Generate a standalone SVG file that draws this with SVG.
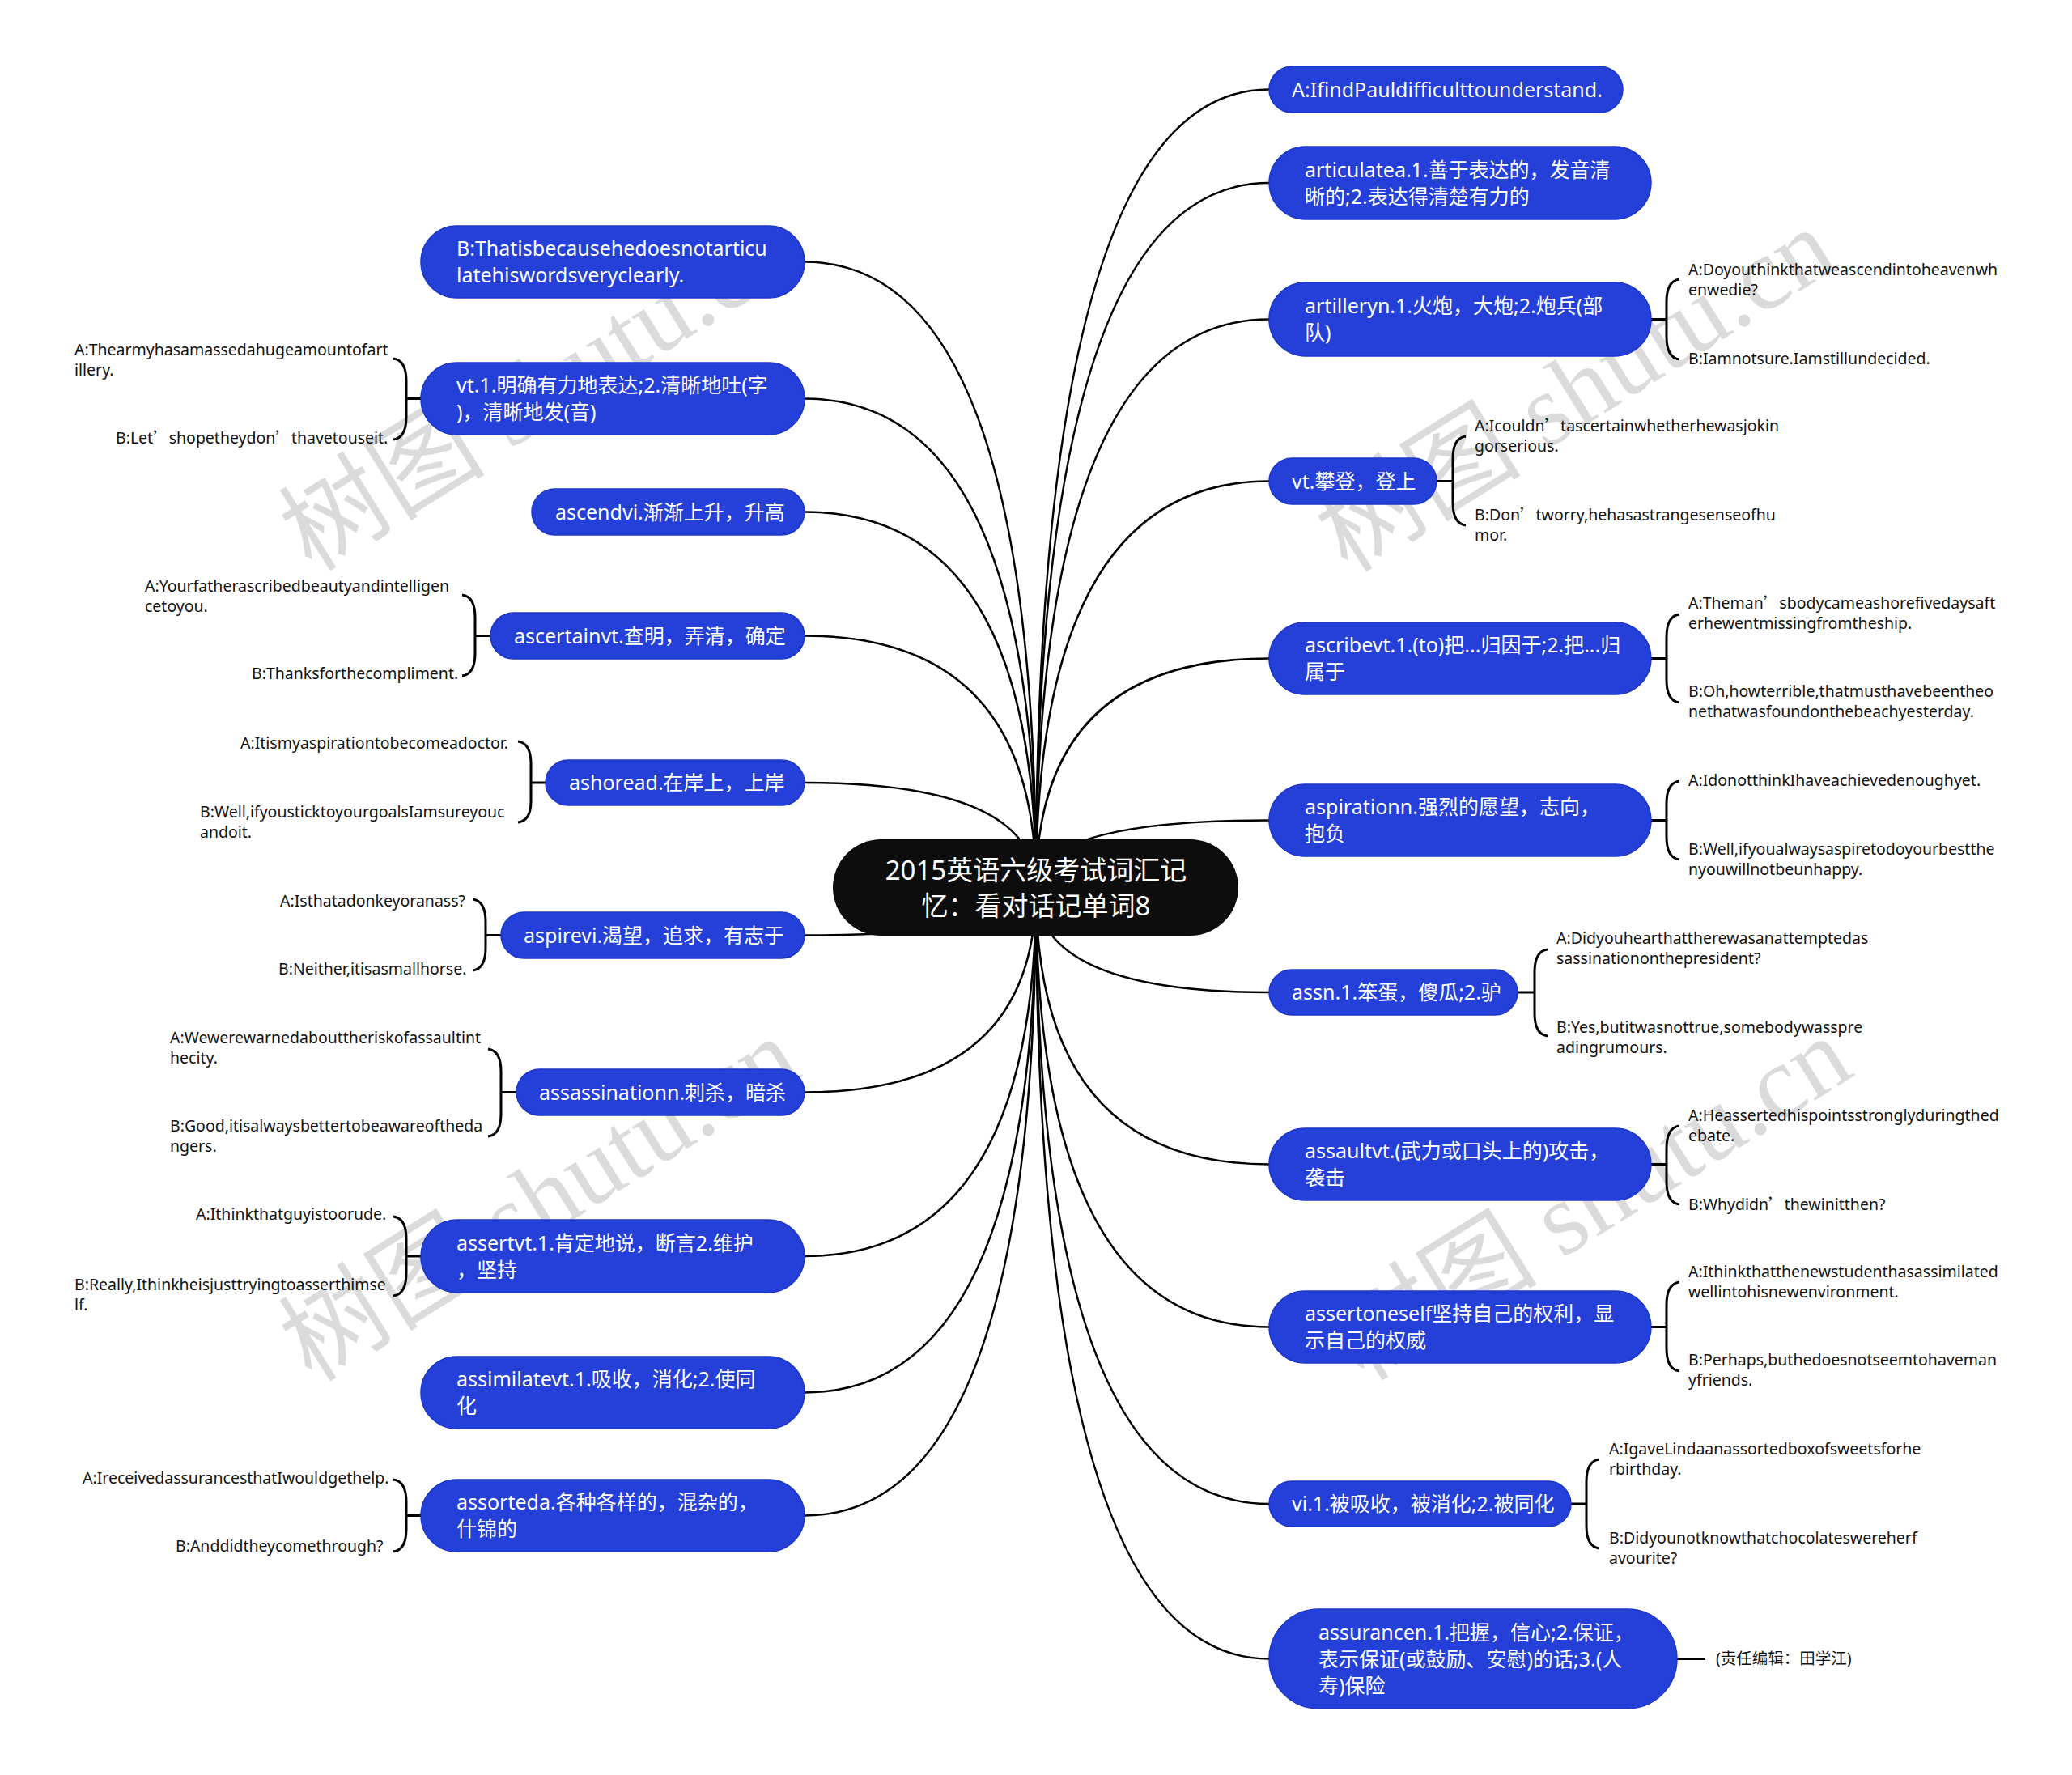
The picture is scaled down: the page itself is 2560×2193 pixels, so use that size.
<svg xmlns="http://www.w3.org/2000/svg" width="2560" height="2193" viewBox="0 0 2560 2193">
<style>
.wm{font-family:"Liberation Serif","Noto Sans CJK SC",serif;font-size:128px;fill:#000;fill-opacity:0.14}
.conn path{fill:none;stroke:#000;stroke-width:2.5}
.br{fill:none;stroke:#000;stroke-width:3}
.bn rect{fill:#2440d8;stroke:#1c36c6;stroke-width:1.5}
.nt{font-family:"Noto Sans","Noto Sans CJK SC",sans-serif;font-size:25px;fill:#fff}
.lt{font-family:"Noto Sans","Noto Sans CJK SC",sans-serif;font-size:19.5px;fill:#111}
.q{font-family:"Noto Sans CJK SC",sans-serif}
.ct{font-family:"Noto Sans","Noto Sans CJK SC",sans-serif;font-size:33px;fill:#fff}
</style>
<rect width="2560" height="2193" fill="#fff"/>
<g id="watermarks">
<text class="wm" transform="translate(385 708) rotate(-32)">树图 shutu.cn</text>
<text class="wm" transform="translate(385 1709) rotate(-32)">树图 shutu.cn</text>
<text class="wm" transform="translate(1665 709) rotate(-32)">树图 shutu.cn</text>
<text class="wm" transform="translate(1685 1708) rotate(-32)">树图 shutu.cn</text>
</g>
<g id="connectors" class="conn">
<path d="M1280 1097 Q1280 110.5 1568 110.5"/>
<path d="M1280 1097 Q1280 226 1568 226"/>
<path d="M1280 1097 Q1280 394.5 1568 394.5"/>
<path d="M1280 1097 Q1280 594.5 1568 594.5"/>
<path d="M1280 1097 Q1280 813.5 1568 813.5"/>
<path d="M1280 1097 Q1280 1013.5 1568 1013.5"/>
<path d="M1280 1097 Q1280 1226 1568 1226"/>
<path d="M1280 1097 Q1280 1438.5 1568 1438.5"/>
<path d="M1280 1097 Q1280 1639.5 1568 1639.5"/>
<path d="M1280 1097 Q1280 1858 1568 1858"/>
<path d="M1280 1097 Q1280 2049.5 1568 2049.5"/>
<path d="M1280 1097 Q1280 323.5 994 323.5"/>
<path d="M1280 1097 Q1280 492.5 994 492.5"/>
<path d="M1280 1097 Q1280 632.5 994 632.5"/>
<path d="M1280 1097 Q1280 785.5 994 785.5"/>
<path d="M1280 1097 Q1280 967 994 967"/>
<path d="M1280 1097 Q1280 1155.5 994 1155.5"/>
<path d="M1280 1097 Q1280 1349.5 994 1349.5"/>
<path d="M1280 1097 Q1280 1552 994 1552"/>
<path d="M1280 1097 Q1280 1720.5 994 1720.5"/>
<path d="M1280 1097 Q1280 1872.5 994 1872.5"/>
</g>
<g id="brackets" class="br">
<path d="M2040 394.5H2059M2075 345Q2059 347 2059 373L2059 416Q2059 442 2075 444"/>
<path d="M1775 594.5H1795M1811 539Q1795 541 1795 567L1795 621Q1795 647 1811 649"/>
<path d="M2040 813.5H2059M2075 759Q2059 761 2059 787L2059 840Q2059 866 2075 868"/>
<path d="M2040 1013.5H2059M2075 965Q2059 967 2059 993L2059 1034Q2059 1060 2075 1062"/>
<path d="M1875 1226H1896M1912 1173Q1896 1175 1896 1201L1896 1252Q1896 1278 1912 1280"/>
<path d="M2040 1438.5H2059M2075 1391Q2059 1393 2059 1419L2059 1460Q2059 1486 2075 1488"/>
<path d="M2040 1639.5H2059M2075 1584Q2059 1586 2059 1612L2059 1666Q2059 1692 2075 1694"/>
<path d="M1941 1858H1960M1976 1803Q1960 1805 1960 1831L1960 1885Q1960 1911 1976 1913"/>
<path d="M2072 2049.5H2107"/>
<path d="M520 492.5H502M486 443Q502 445 502 471L502 515Q502 541 486 543"/>
<path d="M606 785.5H587M571 735Q587 737 587 763L587 807Q587 833 571 835"/>
<path d="M674 967H656M640 916Q656 918 656 944L656 990Q656 1014 640 1016"/>
<path d="M619 1155.5H600M584 1111Q600 1113 600 1139L600 1171Q600 1197 584 1199"/>
<path d="M638 1349.5H619M603 1296Q619 1298 619 1324L619 1376Q619 1402 603 1404"/>
<path d="M520 1552H502M486 1503Q502 1505 502 1531L502 1573Q502 1599 486 1601"/>
<path d="M520 1872.5H502M486 1828Q502 1830 502 1856L502 1889Q502 1915 486 1917"/>
</g>
<g id="center">
<rect x="1029" y="1037" width="501" height="119" rx="59.5" fill="#0d0d0d"/>
<text class="ct" text-anchor="middle"><tspan x="1280" y="1087">2015英语六级考试词汇记</tspan><tspan x="1280" y="1131">忆：看对话记单词8</tspan></text>
</g>
<g id="R1" class="bn"><rect x="1568" y="82" width="437" height="57" rx="28.5"/><text class="nt" x="1596" y="119.5">A:IfindPauldifficulttounderstand.</text></g>
<g id="R2" class="bn"><rect x="1568" y="181" width="472" height="90" rx="45"/><text class="nt"><tspan x="1612" y="218.5">articulatea.1.善于表达的，发音清</tspan><tspan x="1612" y="251.5">晰的;2.表达得清楚有力的</tspan></text></g>
<g id="R3" class="bn"><rect x="1568" y="349" width="472" height="91" rx="45"/><text class="nt"><tspan x="1612" y="387">artilleryn.1.火炮，大炮;2.炮兵(部</tspan><tspan x="1612" y="420">队)</tspan></text></g>
<g id="R4" class="bn"><rect x="1568" y="566" width="207" height="57" rx="28.5"/><text class="nt" x="1596" y="603.5">vt.攀登，登上</text></g>
<g id="R5" class="bn"><rect x="1568" y="769" width="472" height="89" rx="44.5"/><text class="nt"><tspan x="1612" y="806">ascribevt.1.(to)把...归因于;2.把...归</tspan><tspan x="1612" y="839">属于</tspan></text></g>
<g id="R6" class="bn"><rect x="1568" y="969" width="472" height="89" rx="44.5"/><text class="nt"><tspan x="1612" y="1006">aspirationn.强烈的愿望，志向，</tspan><tspan x="1612" y="1039">抱负</tspan></text></g>
<g id="R7" class="bn"><rect x="1568" y="1198" width="307" height="56" rx="28"/><text class="nt" x="1596" y="1235">assn.1.笨蛋，傻瓜;2.驴</text></g>
<g id="R8" class="bn"><rect x="1568" y="1394" width="472" height="89" rx="44.5"/><text class="nt"><tspan x="1612" y="1431">assaultvt.(武力或口头上的)攻击，</tspan><tspan x="1612" y="1464">袭击</tspan></text></g>
<g id="R9" class="bn"><rect x="1568" y="1595" width="472" height="89" rx="44.5"/><text class="nt"><tspan x="1612" y="1632">assertoneself坚持自己的权利，显</tspan><tspan x="1612" y="1665">示自己的权威</tspan></text></g>
<g id="R10" class="bn"><rect x="1568" y="1830" width="373" height="56" rx="28"/><text class="nt" x="1596" y="1867">vi.1.被吸收，被消化;2.被同化</text></g>
<g id="R11" class="bn"><rect x="1568" y="1988" width="504" height="123" rx="61.5"/><text class="nt"><tspan x="1629" y="2025.5">assurancen.1.把握，信心;2.保证，</tspan><tspan x="1629" y="2058.5">表示保证(或鼓励、安慰)的话;3.(人</tspan><tspan x="1629" y="2091.5">寿)保险</tspan></text></g>
<g id="L1" class="bn"><rect x="520" y="279" width="474" height="89" rx="44.5"/><text class="nt"><tspan x="564" y="316">B:Thatisbecausehedoesnotarticu</tspan><tspan x="564" y="349">latehiswordsveryclearly.</tspan></text></g>
<g id="L2" class="bn"><rect x="520" y="448" width="474" height="89" rx="44.5"/><text class="nt"><tspan x="564" y="485">vt.1.明确有力地表达;2.清晰地吐(字</tspan><tspan x="564" y="518">)，清晰地发(音)</tspan></text></g>
<g id="L3" class="bn"><rect x="657" y="604" width="337" height="57" rx="28.5"/><text class="nt" x="686" y="641.5">ascendvi.渐渐上升，升高</text></g>
<g id="L4" class="bn"><rect x="606" y="757" width="388" height="57" rx="28.5"/><text class="nt" x="635" y="794.5">ascertainvt.查明，弄清，确定</text></g>
<g id="L5" class="bn"><rect x="674" y="939" width="320" height="56" rx="28"/><text class="nt" x="703" y="976">ashoread.在岸上，上岸</text></g>
<g id="L6" class="bn"><rect x="619" y="1127" width="375" height="57" rx="28.5"/><text class="nt" x="647" y="1164.5">aspirevi.渴望，追求，有志于</text></g>
<g id="L7" class="bn"><rect x="638" y="1321" width="356" height="57" rx="28.5"/><text class="nt" x="666" y="1358.5">assassinationn.刺杀，暗杀</text></g>
<g id="L8" class="bn"><rect x="520" y="1507" width="474" height="90" rx="45"/><text class="nt"><tspan x="564" y="1544.5">assertvt.1.肯定地说，断言2.维护</tspan><tspan x="564" y="1577.5">，坚持</tspan></text></g>
<g id="L9" class="bn"><rect x="520" y="1676" width="474" height="89" rx="44.5"/><text class="nt"><tspan x="564" y="1713">assimilatevt.1.吸收，消化;2.使同</tspan><tspan x="564" y="1746">化</tspan></text></g>
<g id="L10" class="bn"><rect x="520" y="1828" width="474" height="89" rx="44.5"/><text class="nt"><tspan x="564" y="1865">assorteda.各种各样的，混杂的，</tspan><tspan x="564" y="1898">什锦的</tspan></text></g>
<g id="leaves" class="lt">
<text id="R3a"><tspan x="2086" y="340">A:Doyouthinkthatweascendintoheavenwh</tspan><tspan x="2086" y="365">enwedie?</tspan></text>
<text id="R3b" x="2086" y="450">B:Iamnotsure.Iamstillundecided.</text>
<text id="R4a"><tspan x="1822" y="533">A:Icouldn<tspan class="q">’</tspan>tascertainwhetherhewasjokin</tspan><tspan x="1822" y="558">gorserious.</tspan></text>
<text id="R4b"><tspan x="1822" y="643">B:Don<tspan class="q">’</tspan>tworry,hehasastrangesenseofhu</tspan><tspan x="1822" y="668">mor.</tspan></text>
<text id="R5a"><tspan x="2086" y="752">A:Theman<tspan class="q">’</tspan>sbodycameashorefivedaysaft</tspan><tspan x="2086" y="777">erhewentmissingfromtheship.</tspan></text>
<text id="R5b"><tspan x="2086" y="861">B:Oh,howterrible,thatmusthavebeentheo</tspan><tspan x="2086" y="886">nethatwasfoundonthebeachyesterday.</tspan></text>
<text id="R6a" x="2086" y="971">A:IdonotthinkIhaveachievedenoughyet.</text>
<text id="R6b"><tspan x="2086" y="1056">B:Well,ifyoualwaysaspiretodoyourbestthe</tspan><tspan x="2086" y="1081">nyouwillnotbeunhappy.</tspan></text>
<text id="R7a"><tspan x="1923" y="1166">A:Didyouhearthattherewasanattemptedas</tspan><tspan x="1923" y="1191">sassinationonthepresident?</tspan></text>
<text id="R7b"><tspan x="1923" y="1276">B:Yes,butitwasnottrue,somebodywasspre</tspan><tspan x="1923" y="1301">adingrumours.</tspan></text>
<text id="R8a"><tspan x="2086" y="1385">A:Heassertedhispointsstronglyduringthed</tspan><tspan x="2086" y="1410">ebate.</tspan></text>
<text id="R8b" x="2086" y="1495">B:Whydidn<tspan class="q">’</tspan>thewinitthen?</text>
<text id="R9a"><tspan x="2086" y="1578">A:Ithinkthatthenewstudenthasassimilated</tspan><tspan x="2086" y="1603">wellintohisnewenvironment.</tspan></text>
<text id="R9b"><tspan x="2086" y="1687">B:Perhaps,buthedoesnotseemtohaveman</tspan><tspan x="2086" y="1712">yfriends.</tspan></text>
<text id="R10a"><tspan x="1988" y="1797">A:IgaveLindaanassortedboxofsweetsforhe</tspan><tspan x="1988" y="1822">rbirthday.</tspan></text>
<text id="R10b"><tspan x="1988" y="1907">B:Didyounotknowthatchocolateswereherf</tspan><tspan x="1988" y="1932">avourite?</tspan></text>
<text id="R11a" x="2120" y="2056">(责任编辑：田学江)</text>
<text id="L2a"><tspan x="92" y="439">A:Thearmyhasamassedahugeamountofart</tspan><tspan x="92" y="464">illery.</tspan></text>
<text id="L2b" x="143" y="548">B:Let<tspan class="q">’</tspan>shopetheydon<tspan class="q">’</tspan>thavetouseit.</text>
<text id="L4a"><tspan x="179" y="731">A:Yourfatherascribedbeautyandintelligen</tspan><tspan x="179" y="756">cetoyou.</tspan></text>
<text id="L4b" x="311" y="839">B:Thanksforthecompliment.</text>
<text id="L5a" x="297" y="925">A:Itismyaspirationtobecomeadoctor.</text>
<text id="L5b"><tspan x="247" y="1010">B:Well,ifyousticktoyourgoalsIamsureyouc</tspan><tspan x="247" y="1035">andoit.</tspan></text>
<text id="L6a" x="346" y="1120">A:Isthatadonkeyoranass?</text>
<text id="L6b" x="344" y="1204">B:Neither,itisasmallhorse.</text>
<text id="L7a"><tspan x="210" y="1289">A:Wewerewarnedabouttheriskofassaultint</tspan><tspan x="210" y="1314">hecity.</tspan></text>
<text id="L7b"><tspan x="210" y="1398">B:Good,itisalwaysbettertobeawareoftheda</tspan><tspan x="210" y="1423">ngers.</tspan></text>
<text id="L8a" x="242" y="1507">A:Ithinkthatguyistoorude.</text>
<text id="L8b"><tspan x="92" y="1594">B:Really,Ithinkheisjusttryingtoasserthimse</tspan><tspan x="92" y="1619">lf.</tspan></text>
<text id="L10a" x="102" y="1833">A:IreceivedassurancesthatIwouldgethelp.</text>
<text id="L10b" x="217" y="1917">B:Anddidtheycomethrough?</text>
</g>
</svg>
